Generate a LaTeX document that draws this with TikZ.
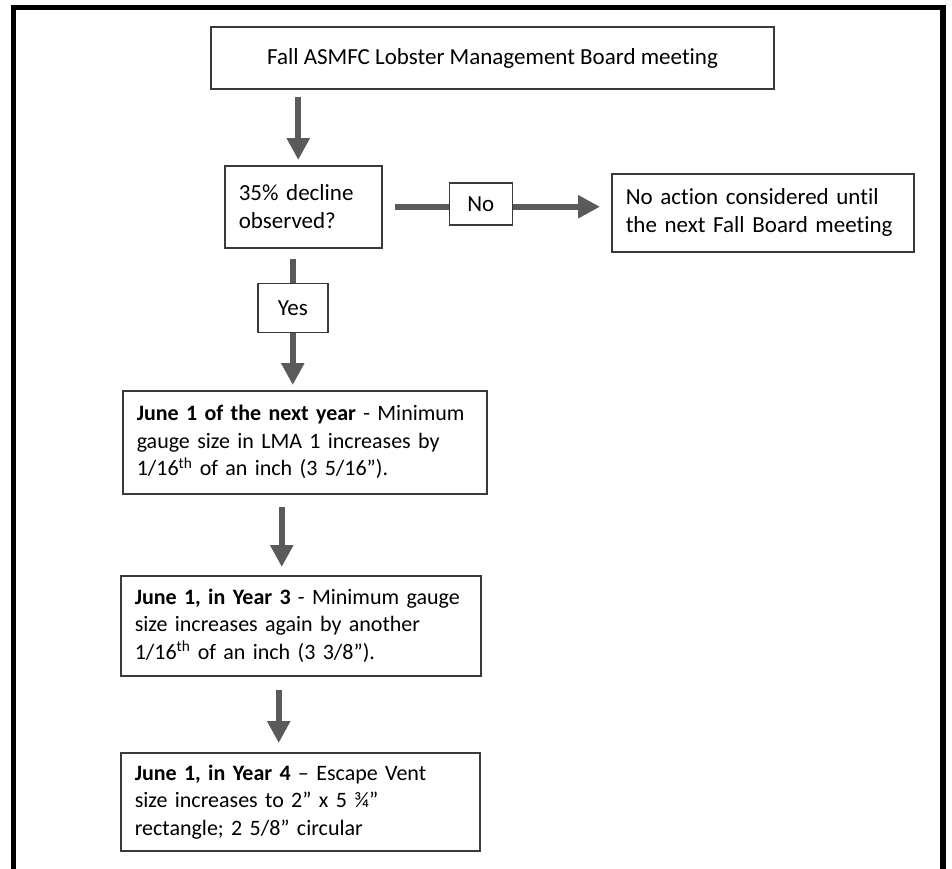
\documentclass[tikz,border=0pt]{standalone}
\usepackage{fontspec}
\setmainfont{Carlito}[Ligatures={NoCommon}]
\usetikzlibrary{arrows.meta,positioning}
\definecolor{boxline}{HTML}{3A3A3A}
\definecolor{arrowgray}{HTML}{5A5A5A}

\begin{document}
\begin{tikzpicture}[x=1pt,y=-1pt,
    box/.style={draw=boxline,line width=1.5pt,rectangle,inner ysep=0pt,
      font=\fontsize{23}{28}\selectfont},
    txtbox/.style={box,align=left,inner xsep=14pt},
    yrbox/.style={txtbox,font=\fontsize{22}{27.5}\selectfont},
    lbl/.style={box,align=center},
    link/.style={draw=arrowgray,line width=6pt},
    flow/.style={link,-{Triangle[width=22pt,length=22pt]}}]
    \useasboundingbox (0,0) rectangle (952,868);
    % outer frame
    \draw[line width=5.5pt] (13.5,875) -- (13.5,7.5) -- (943,7.5) -- (943,875);

    \node[lbl,minimum width=563pt,minimum height=62pt] (meet) at (492.5,58) {Fall ASMFC Lobster Management Board meeting};
    \node[txtbox,text width=129pt,minimum height=82pt,anchor=north west] (decl) at (224,165) {35\% decline\\observed?};
    \node[lbl,minimum width=63pt,minimum height=42pt,right=66pt of decl,yshift=3pt] (no) {No};
    \node[txtbox,text width=274pt,minimum height=78pt,right=98pt of no,yshift=-9pt] (noact) {No action considered until\\the next Fall Board meeting};
    \node[lbl,minimum width=70pt,minimum height=49pt,below=34pt of decl,xshift=-10.5pt] (yes) {Yes};
    \node[yrbox,text width=336pt,minimum height=103pt,anchor=north west] (yr1) at (122,390)
        {\textbf{June 1 of the next year} - Minimum\\gauge size in LMA 1 increases by\\1/16\textsuperscript{th} of an inch (3 5/16”).};
    \node[yrbox,text width=332pt,minimum height=100pt,anchor=north west] (yr3) at (120,575)
        {\textbf{June 1, in Year 3} - Minimum gauge\\size increases again by another\\1/16\textsuperscript{th} of an inch (3 3/8”).};
    \node[yrbox,text width=331pt,minimum height=98pt,anchor=north west] (yr4) at (120,752)
        {\textbf{June 1, in Year 4} – Escape Vent\\size increases to 2” x 5 ¾”\\rectangle; 2 5/8” circular};

    % connectors
    \draw[flow,shorten <=7pt,shorten >=5pt] ([xshift=-5pt]decl.north |- meet.south) -- ([xshift=-5pt]decl.north);
    \draw[link,shorten <=12pt] (decl.east) -- (decl.east -| no.west);
    \draw[flow,shorten >=11pt] (no.east |- decl.east) -- (noact.west |- decl.east);
    \draw[link,shorten <=10pt] (yes.north |- decl.south) -- (yes.north);
    \draw[flow,shorten >=5pt] (yes.south) -- (yes.south |- yr1.north);
    \draw[flow,shorten <=12pt,shorten >=8pt] ([xshift=-23pt]yr1.south) -- ([xshift=-23pt]yr1.south |- yr3.north);
    \draw[flow,shorten <=13pt,shorten >=9pt] ([xshift=-22pt]yr3.south) -- ([xshift=-22pt]yr3.south |- yr4.north);
\end{tikzpicture}
\end{document}
